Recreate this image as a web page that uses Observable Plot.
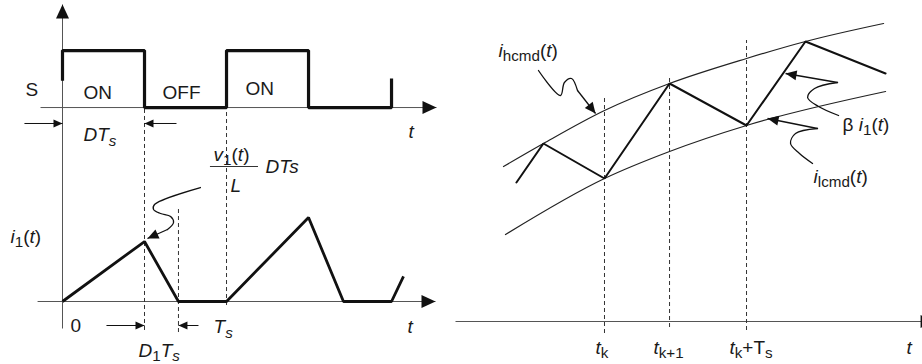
<!DOCTYPE html>
<html>
<head>
<meta charset="utf-8">
<script src="https://cdn.jsdelivr.net/npm/d3@7"></script>
<script src="https://cdn.jsdelivr.net/npm/@observablehq/plot@0.6"></script>
<style>
  html, body { margin: 0; padding: 0; background: #fff; }
  #figure { display: flex; width: 922px; height: 364px; overflow: hidden; }
  #figure svg { flex: none; }
</style>
</head>
<body>
<div id="figure"></div>
<script>
// ---------------------------------------------------------------------------
// Left panel: switch state S and inductor current i1(t) over two periods.
// Time is measured in switching periods (Ts = 1); current in units of the
// first peak. The S trace sits in its own lane above the current trace.
// ---------------------------------------------------------------------------
const switchTime   = [0, 0, 0.5, 0.5, 1, 1, 1.5, 1.5, 2.006, 2.006];
const switchState  = [0.47, 1, 1, 0, 0, 1, 1, 0, 0, 0.51];
const currentTime  = [0, 0.5, 0.707, 1, 1.5, 1.713, 2.006, 2.079];
const currentValue = [0, 1, 0, 0, 1.4, 0, 0, 0.42];

// lane layout of the S trace (in current units)
const S_BASE = 3.233;
const S_AMP = 0.95;

// axes of the left panel: [x1, y1, x2, y2], arrow tip at (x2, y2)
const leftAxisX1 = [0, -0.134, -0.152];
const leftAxisY1 = [-0.45, S_BASE, 0];
const leftAxisX2 = [0, 2.280, 2.274];
const leftAxisY2 = [4.95, S_BASE, 0];

// dashed guides: time, bottom, top
const leftGuideT  = [0.5, 0.707, 1];
const leftGuideY1 = [-0.483, -0.517, -0.067];
const leftGuideY2 = [S_BASE, 1.533, S_BASE];

// dimension arrows (DTs above, D1Ts below): from, to, level
const dimFrom  = [-0.232, 0.695, 0.268, 0.829];
const dimTo    = [0, 0.5, 0.5, 0.707];
const dimLevel = [2.967, 2.967, -0.4, -0.4];

// fraction bar of v1(t)/L
const fracBarX = [0.902, 1.195];
const fracBarY = 2.25;

// squiggle pointing at the first current peak
const leftHookX = [0.841, 0.561, 0.555, 0.598, 0.659, 0.677, 0.640];
const leftHookY = [1.9, 1.617, 1.533, 1.467, 1.417, 1.317, 1.2];
const leftHookTip = [0.518, 1.05];

// labels (markup: *italic*, _x or _{sub} subscript)
const leftLabelText = ["S", "ON", "OFF", "ON", "*t*", "*DT*_{*s*}", "*v*_1(*t*)", "*L*", "*DTs*",
                       "*i*_1(*t*)", "0", "*t*", "*T*_{*s*}", "*D*_1*T*_{*s*}"];
const leftLabelX = [-0.226, 0.128, 0.610, 1.116, 2.110, 0.128, 0.921, 1.024, 1.238,
                    -0.317, 0.049, 2.104, 0.921, 0.463];
const leftLabelY = [3.433, 3.383, 3.367, 3.45, 2.717, 2.667, 2.35, 1.833, 2.15,
                    0.983, -0.5, -0.517, -0.533, -0.917];

// ---------------------------------------------------------------------------
// Right panel: hysteresis current control. Time in periods from t_k.
// ---------------------------------------------------------------------------
const upperTime  = [-0.711, -0.43, 0, 0.458, 1, 1.415, 1.965];
const upperValue = [1.55, 1.78, 2.11, 2.38, 2.63, 2.80, 2.98];
const lowerTime  = [-0.697, 0, 0.458, 1, 1.979];
const lowerValue = [0.87, 1.43, 1.70, 1.96, 2.30];
const sensedTime  = [-0.620, -0.43, 0, 0.458, 1, 1.415, 1.979];
const sensedValue = [1.39, 1.78, 1.43, 2.38, 1.96, 2.80, 2.48];

const rightAxis = [-1.049, 0, 2.324, 0];

const rightGuideT  = [0, 0.458, 1];
const rightGuideY1 = [-0.12, -0.06, -0.09];
const rightGuideY2 = [2.26, 2.44, 2.81];

const hookHcmdX = [-0.465, -0.310, -0.282, -0.232, -0.190];
const hookHcmdY = [2.51, 2.26, 2.39, 2.43, 2.31];
const hookHcmdTip = [-0.063, 2.08];
const hookBetaX = [1.648, 1.507, 1.430, 1.479, 1.641];
const hookBetaY = [2.06, 2.15, 2.24, 2.33, 2.39];
const hookBetaTip = [1.275, 2.48];
const hookLcmdX = [1.465, 1.373, 1.310, 1.345, 1.5];
const hookLcmdY = [1.58, 1.68, 1.78, 1.88, 1.93];
const hookLcmdTip = [1.148, 2.03];

const rightLabelText = ["*i*_{hcmd}(*t*)", "β *i*_1(*t*)", "*i*_{lcmd}(*t*)",
                        "*t*_k", "*t*_{k+1}", "*t*_k+T_s", "*t*"];
const rightLabelX = [-0.746, 1.676, 1.472, -0.063, 0.345, 0.880, 2.127];
const rightLabelY = [2.65, 1.91, 1.39, -0.32, -0.32, -0.32, -0.32];

// ---------------------------------------------------------------------------
const FONT = "'Liberation Sans', Arial, Helvetica, sans-serif";
const INK = "#111";
const AXIS = "#555";
const LABEL_SIZE = 19;
const SUB_SIZE = "0.8em";
const SUB_SHIFT = 4.5;

// filled arrowhead with its tip at the origin, pointing along +x
function arrowHead(len, half) {
  return {
    draw(ctx) {
      ctx.moveTo(0, 0);
      ctx.lineTo(-len, -half);
      ctx.lineTo(-len, half);
      ctx.closePath();
    }
  };
}
const bigHead = arrowHead(14, 6.5);
const smallHead = arrowHead(9, 4);
const noteHead = arrowHead(11, 5);

const zipXY = (xs, ys) => xs.map((x, i) => ({x, y: ys[i]}));

function makeScales(width, height, xDomain, yDomain) {
  const sx = Plot.scale({x: {domain: xDomain, range: [0, width]}});
  const sy = Plot.scale({y: {domain: yDomain, range: [height, 0]}});
  return (from, to) => Math.atan2(sy.apply(to[1]) - sy.apply(from[1]),
                                  sx.apply(to[0]) - sx.apply(from[0])) * 180 / Math.PI;
}

// parse label markup into runs of {text, italic, sub}
function parseLabel(s) {
  const out = [];
  let italic = false, i = 0;
  const push = (ch, sub) => {
    const last = out[out.length - 1];
    if (last && last.italic === italic && last.sub === sub) last.text += ch;
    else out.push({text: ch, italic, sub});
  };
  while (i < s.length) {
    const c = s[i];
    if (c === "*") { italic = !italic; i++; continue; }
    if (c === "_") {
      i++;
      if (s[i] === "{") {
        i++;
        while (i < s.length && s[i] !== "}") {
          if (s[i] === "*") italic = !italic; else push(s[i], true);
          i++;
        }
        i++;
      } else { push(s[i], true); i++; }
      continue;
    }
    push(c, false); i++;
  }
  return out;
}

function typesetLabels(svg) {
  for (const t of svg.querySelectorAll("text")) {
    const src = t.textContent;
    if (!/[*_]/.test(src)) continue;
    const runs = parseLabel(src);
    t.textContent = "";
    let shifted = false;
    for (const r of runs) {
      const ts = document.createElementNS("http://www.w3.org/2000/svg", "tspan");
      ts.textContent = r.text;
      if (r.italic) ts.setAttribute("font-style", "italic");
      if (r.sub) ts.setAttribute("font-size", SUB_SIZE);
      if (r.sub !== shifted) {
        ts.setAttribute("dy", r.sub ? SUB_SHIFT : -SUB_SHIFT);
        shifted = r.sub;
      }
      t.appendChild(ts);
    }
  }
}

function labelMarks(texts, xs, ys) {
  return Plot.text(texts.map((text, i) => ({text, x: xs[i], y: ys[i]})), {
    x: "x", y: "y", text: "text",
    textAnchor: "start", lineAnchor: "bottom",
    fontSize: LABEL_SIZE, fill: "#1a1a1a"
  });
}

function hookMarks(hx, hy, tip, angleOf) {
  const pts = zipXY(hx, hy);
  const last = pts[pts.length - 1];
  return [
    Plot.line(pts, {x: "x", y: "y", curve: "catmull-rom", stroke: INK, strokeWidth: 1.3}),
    Plot.link([{x1: last.x, y1: last.y, x2: tip[0], y2: tip[1]}],
              {x1: "x1", y1: "y1", x2: "x2", y2: "y2", stroke: INK, strokeWidth: 1.3}),
    Plot.dot([{x: tip[0], y: tip[1], a: angleOf([last.x, last.y], tip)}],
             {x: "x", y: "y", rotate: "a", symbol: noteHead, fill: INK, stroke: "none"})
  ];
}

// ---------------------------- left panel ----------------------------------
const leftW = 455, leftH = 364;
const leftXDomain = [-0.378, 2.396], leftYDomain = [-1.05, 5.017];
const leftAngle = makeScales(leftW, leftH, leftXDomain, leftYDomain);

const leftAxes = leftAxisX1.map((x1, i) => ({
  x1, y1: leftAxisY1[i], x2: leftAxisX2[i], y2: leftAxisY2[i],
  a: leftAngle([x1, leftAxisY1[i]], [leftAxisX2[i], leftAxisY2[i]])
}));
const leftGuides = leftGuideT.map((x, i) => ({x, y1: leftGuideY1[i], y2: leftGuideY2[i]}));
const dims = dimFrom.map((x1, i) => ({
  x1, x2: dimTo[i], y: dimLevel[i], a: leftAngle([x1, dimLevel[i]], [dimTo[i], dimLevel[i]])
}));
const sTrace = switchTime.map((t, i) => ({t, v: S_BASE + S_AMP * switchState[i]}));
const iTrace = currentTime.map((t, i) => ({t, v: currentValue[i]}));

const left = Plot.plot({
  width: leftW, height: leftH, margin: 0,
  x: {domain: leftXDomain, axis: null},
  y: {domain: leftYDomain, axis: null},
  style: {fontFamily: FONT, background: "white", overflow: "visible"},
  marks: [
    Plot.link(leftAxes, {x1: "x1", y1: "y1", x2: "x2", y2: "y2", stroke: AXIS, strokeWidth: 1}),
    Plot.dot(leftAxes, {x: "x2", y: "y2", rotate: "a", symbol: bigHead, fill: INK, stroke: "none"}),
    Plot.ruleX(leftGuides, {x: "x", y1: "y1", y2: "y2", stroke: "#333", strokeWidth: 1, strokeDasharray: "4,3"}),
    Plot.ruleY([fracBarY], {x1: fracBarX[0], x2: fracBarX[1], stroke: "#333", strokeWidth: 1}),
    Plot.link(dims, {x1: "x1", x2: "x2", y1: "y", y2: "y", stroke: INK, strokeWidth: 1}),
    Plot.dot(dims, {x: "x2", y: "y", rotate: "a", symbol: smallHead, fill: INK, stroke: "none"}),
    Plot.line(sTrace, {x: "t", y: "v", stroke: INK, strokeWidth: 3.2, strokeLinejoin: "miter", strokeLinecap: "butt"}),
    Plot.line(iTrace, {x: "t", y: "v", stroke: INK, strokeWidth: 2.8, strokeLinejoin: "miter", strokeLinecap: "butt"}),
    ...hookMarks(leftHookX, leftHookY, leftHookTip, leftAngle),
    labelMarks(leftLabelText, leftLabelX, leftLabelY)
  ]
});

// ---------------------------- right panel ---------------------------------
const rightW = 467, rightH = 364;
const rightXDomain = [-1.049, 2.239], rightYDomain = [-0.43, 3.21];
const rightAngle = makeScales(rightW, rightH, rightXDomain, rightYDomain);

const rAxis = [{x1: rightAxis[0], y1: rightAxis[1], x2: rightAxis[2], y2: rightAxis[3],
                a: rightAngle([rightAxis[0], rightAxis[1]], [rightAxis[2], rightAxis[3]])}];
const rightGuides = rightGuideT.map((x, i) => ({x, y1: rightGuideY1[i], y2: rightGuideY2[i]}));

const right = Plot.plot({
  width: rightW, height: rightH, margin: 0,
  x: {domain: rightXDomain, axis: null},
  y: {domain: rightYDomain, axis: null},
  style: {fontFamily: FONT, background: "white"},
  marks: [
    Plot.link(rAxis, {x1: "x1", y1: "y1", x2: "x2", y2: "y2", stroke: AXIS, strokeWidth: 1}),
    Plot.dot(rAxis, {x: "x2", y: "y2", rotate: "a", symbol: bigHead, fill: INK, stroke: "none"}),
    Plot.ruleX(rightGuides, {x: "x", y1: "y1", y2: "y2", stroke: "#333", strokeWidth: 1, strokeDasharray: "4,3"}),
    Plot.line(zipXY(upperTime, upperValue), {x: "x", y: "y", curve: "monotone-x", stroke: "#222", strokeWidth: 1.2}),
    Plot.line(zipXY(lowerTime, lowerValue), {x: "x", y: "y", curve: "monotone-x", stroke: "#222", strokeWidth: 1.2}),
    Plot.line(zipXY(sensedTime, sensedValue), {x: "x", y: "y", stroke: INK, strokeWidth: 2, strokeLinejoin: "miter"}),
    ...hookMarks(hookHcmdX, hookHcmdY, hookHcmdTip, rightAngle),
    ...hookMarks(hookBetaX, hookBetaY, hookBetaTip, rightAngle),
    ...hookMarks(hookLcmdX, hookLcmdY, hookLcmdTip, rightAngle),
    labelMarks(rightLabelText, rightLabelX, rightLabelY)
  ]
});

typesetLabels(left);
typesetLabels(right);
const fig = document.getElementById("figure");
fig.appendChild(left);
fig.appendChild(right);
</script>
</body>
</html>
